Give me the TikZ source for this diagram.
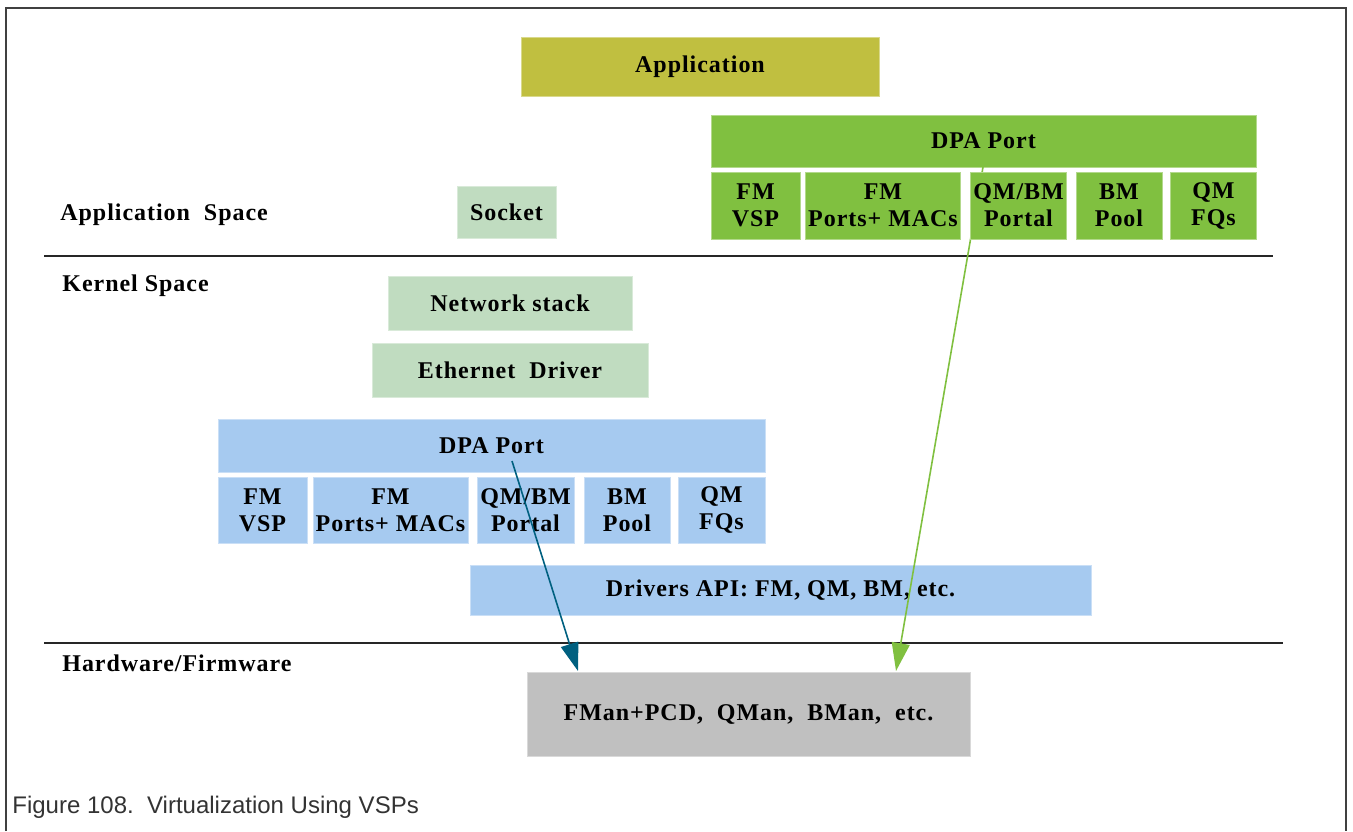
\documentclass[tikz,border=0pt]{standalone}
\usepackage{fontspec}
\setmainfont{Liberation Serif}
\newfontfamily\boxfont{Liberation Serif}[LetterSpace=4]
\newfontfamily\capfont{Liberation Sans}
\usepackage{tikz}
\usetikzlibrary{arrows.meta}

\definecolor{appolive}{RGB}{192,191,64}
\definecolor{dpagreen}{RGB}{128,192,64}
\definecolor{stackgreen}{RGB}{192,220,192}
\definecolor{dpablue}{RGB}{166,202,240}
\definecolor{hwgray}{RGB}{192,192,192}
\definecolor{tealarrow}{RGB}{0,96,128}
\definecolor{framegray}{RGB}{64,64,64}
\definecolor{capgray}{RGB}{51,51,51}

\begin{document}
\begin{tikzpicture}[x=0.5pt,y=-0.5pt,
                    dims/.style 2 args={minimum width=#1*0.5pt,minimum height=#2*0.5pt},
                    box/.style={rectangle,inner sep=0pt,align=center,line width=0.4pt,
                                font=\boxfont\bfseries\fontsize{12}{13.5}\selectfont},
                    app box/.style={box,fill=appolive,draw=appolive!60!white},
                    green box/.style={box,fill=dpagreen,draw=dpagreen!60!white},
                    stack box/.style={box,fill=stackgreen,draw=stackgreen!60!white},
                    blue box/.style={box,fill=dpablue,draw=dpablue!60!white},
                    hw box/.style={box,fill=hwgray,draw=hwgray!60!white},
                    space label/.style={anchor=west,inner sep=0pt,
                                font=\boxfont\bfseries\fontsize{12}{13.5}\selectfont},
                    sep line/.style={line width=1pt,black!85},
                    port arrow/.style={line width=0.8pt,-{Triangle[length=14pt,width=9pt]}}]

\useasboundingbox (0,0) rectangle (1353,831);
\draw [line width=1pt,framegray] (6,831) -- (6,8) -- (1346,8) -- (1346,831);

% application space
\node [app box,dims={358}{59}] (app) at (700,66.5) {Application};
\node [green box,dims={545}{52}] (uport) at (983.5,141) {DPA Port};
\node [stack box,dims={99}{52}] (socket) at (506.5,212) {Socket};
\node [space label] (appspace) at (60,215) {Application\ \ Space};

\draw [sep line] (44,256) -- (1273,256);

% kernel space
\node [space label] (kernspace) at (62,286) {Kernel Space};
\node [stack box,dims={244}{54}] (netstack) at (510,303) {Network stack};
\node [stack box,dims={276}{54}] (ethdrv) at (510,370) {Ethernet\ \ Driver};

\node [blue box,dims={547}{53}] (kport) at (491.5,445.5) {DPA Port};
\node [blue box,dims={89}{66}] (kvsp) at (262.5,510) {FM\\VSP};
\node [blue box,dims={155}{66}] (kports) at (390.5,510) {FM\\Ports+ MACs};
\node [blue box,dims={97}{66}] (kportal) at (525.5,510) {QM/BM\\Portal};
\node [blue box,dims={86}{66}] (kpool) at (627,510) {BM\\Pool};
\node [blue box,dims={87}{66}] (kfqs) at (721.5,510) {QM\\FQs};

\node [blue box,dims={621}{50}] (drvapi) at (780.5,590) {Drivers API: FM, QM, BM, etc.};

\draw [sep line] (44,643) -- (1283,643);

% hardware
\node [space label] (hwspace) at (62,663) {Hardware/Firmware};
\node [hw box,dims={443}{84}] (fman) at (748.5,714) {FMan+PCD,\ \ QMan,\ \ BMan,\ \ etc.};

\coordinate (uport tap) at (983,167);
\coordinate (hw green) at (896,671);
\coordinate (kport tap) at (512,461);
\coordinate (hw blue) at (578,671);

\draw [port arrow,dpagreen] (uport tap) -- (hw green);

\node [green box,dims={89}{67}] (uvsp) at (755.5,205.5) {FM\\VSP};
\node [green box,dims={155}{67}] (uports) at (883,205.5) {FM\\Ports+ MACs};
\node [green box,dims={96}{67}] (uportal) at (1018.5,205.5) {QM/BM\\Portal};
\node [green box,dims={86}{67}] (upool) at (1119,205.5) {BM\\Pool};
\node [green box,dims={86}{67}] (ufqs) at (1213.5,205.5) {QM\\FQs};

\draw [port arrow,tealarrow] (kport tap) -- (hw blue);

\node [anchor=base west,inner sep=0pt,capgray,font=\capfont\fontsize{12}{14}\selectfont] (caption)
      at (12,813) {Figure 108.\ \ Virtualization Using VSPs};

\end{tikzpicture}
\end{document}
